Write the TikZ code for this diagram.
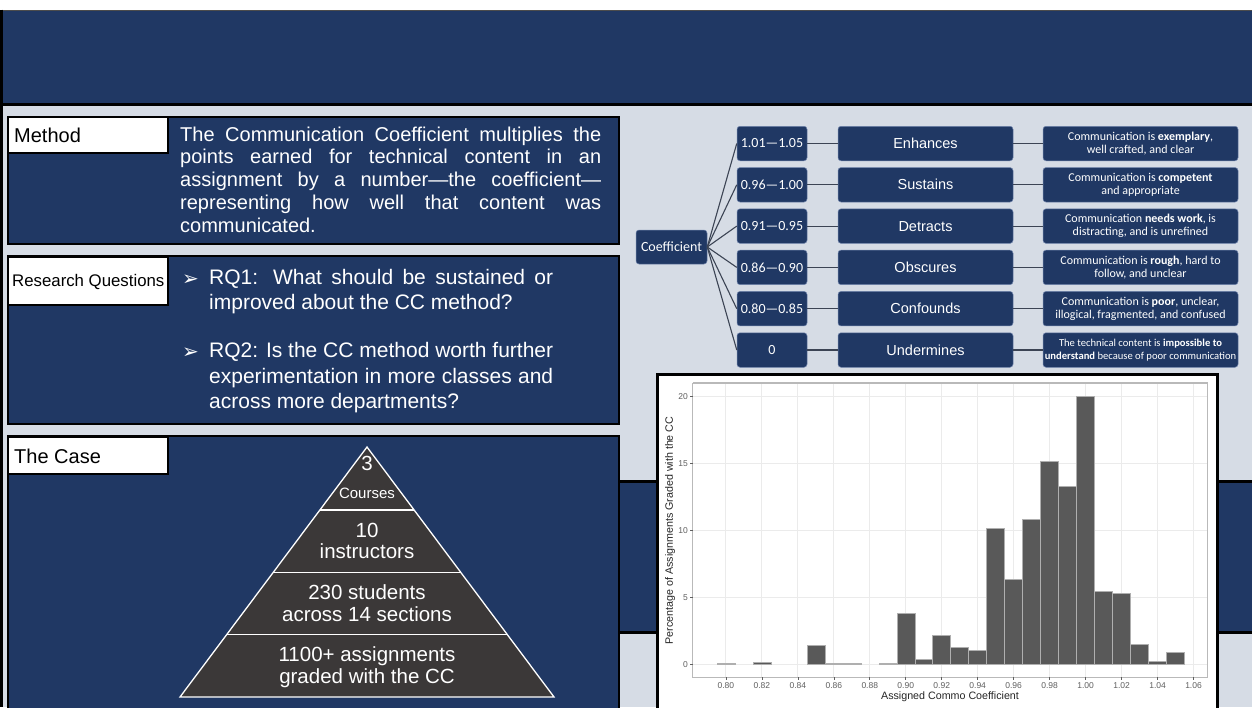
\documentclass[tikz,border=0pt]{standalone}
\usepackage{fontspec}
\setmainfont{Liberation Sans}
\newfontfamily\calib{Carlito}
\newfontfamily\dejavu{DejaVu Sans}
\usetikzlibrary{calc}
\definecolor{navy}{RGB}{32,56,100}
\definecolor{lightbg}{RGB}{214,220,229}
\definecolor{pyrfill}{RGB}{59,56,56}
\definecolor{treeline}{RGB}{60,68,84}
\definecolor{boxedge}{RGB}{110,130,170}
\definecolor{barfill}{RGB}{89,89,89}
\definecolor{baredge}{RGB}{175,175,175}
\definecolor{gridc}{RGB}{235,235,235}
\definecolor{tickc}{RGB}{95,95,95}
\definecolor{panelc}{RGB}{185,185,185}
\tikzset{
  panel/.style={fill=navy, draw=black, line width=2.5pt},
  labelbox/.style={fill=white, draw=black, line width=2pt},
  labeltext/.style={anchor=west, inner sep=0pt, text=black},
  tbox/.style={rounded corners=3pt, fill=navy, draw=boxedge, line width=0.5pt, text=white, align=center, inner sep=0pt},
  rangebox/.style={tbox, minimum width=70pt, minimum height=34.5pt, font=\calib\fontsize{14}{16}\selectfont},
  midbox/.style={tbox, minimum width=175pt, minimum height=34.5pt, font=\fontsize{14.5}{16}\selectfont},
  descbox/.style={tbox, minimum width=195pt, minimum height=34.5pt, font=\calib\fontsize{12}{12.7}\selectfont},
  tline/.style={draw=treeline, line width=1.1pt},
  pyrtext/.style={text=white, anchor=base, inner sep=0pt, font=\fontsize{20.5}{22}\selectfont},
  bodytext/.style={anchor=base west, inner sep=0pt, text=white},
  bullettext/.style={anchor=base west, inner sep=0pt, text=white, font=\dejavu\fontsize{20}{22}\selectfont},
  ticklab/.style={text=tickc, inner sep=0pt, font=\fontsize{8.5}{10}\selectfont},
  axlab/.style={text=black!85, inner sep=0pt, font=\fontsize{10.7}{12}\selectfont},
}
\begin{document}
\begin{tikzpicture}[x=1pt,y=-1pt]
\useasboundingbox (0,0) rectangle (1252,707);
\fill[white] (0,0) rectangle (1252,707);
\fill[lightbg] (0,105) rectangle (1252,707);
% banner
\fill[navy] (1.5,10) rectangle (1252,105);
\draw[line width=0.8pt, black!70] (1.5,10) -- (1252,10);
\draw[line width=3pt] (1.5,104) -- (1252,104);
\draw[line width=2.5pt] (1.5,9.6) -- (1.5,707);
% right navy band behind the histogram
\fill[navy] (620,481) rectangle (1252,632);
\draw[line width=3pt] (620,481) -- (1252,481) (620,632) -- (1252,632);

% ---------- Method ----------
\path[panel] (8,117) rectangle (619,244);
\path[labelbox] (8,117) rectangle (168,153);
\node[labeltext, font=\fontsize{20}{24}\selectfont] (mlabel) at (14,135) {Method};
\node[bodytext] (mtext) at (180,141) {\parbox[t]{421pt}{\fontsize{20}{22.8}\selectfont The Communication Coefficient multiplies the\linebreak points earned for technical content in an\linebreak assignment by a number—the coefficient—\linebreak representing how well that content was\linebreak communicated.}};

% ---------- Research Questions ----------
\path[panel] (8,256) rectangle (619,424);
\path[labelbox] (8,257) rectangle (168,305);
\node[labeltext, font=\fontsize{16.8}{20}\selectfont] (rqlabel) at (12,281.5) {Research Questions};
\node[bullettext] (b1) at (182,285) {➢};
\node[bodytext] (rq1) at (209,284) {\parbox[t]{344pt}{\fontsize{21}{25}\selectfont RQ1: What should be sustained or\linebreak improved about the CC method?}};
\node[bullettext] (b2) at (182,358.5) {➢};
\node[bodytext] (rq2) at (209,357.5) {\parbox[t]{344pt}{\fontsize{21}{25.5}\selectfont RQ2: Is the CC method worth further\linebreak experimentation in more classes and\linebreak across more departments?}};

% ---------- The Case ----------
\path[panel] (8,436) rectangle (619,712);
\path[labelbox] (8,437) rectangle (168,474);
\node[labeltext, font=\fontsize{20}{24}\selectfont] (clabel) at (14,456) {The Case};
\coordinate (apex) at (367,447);
\coordinate (bl) at (180,697);
\coordinate (br) at (554,697);
\filldraw[fill=pyrfill, draw=white, line width=1.3pt, line join=miter] (apex) -- (br) -- (bl) -- cycle;
\foreach \t in {0.252,0.502,0.75}
  \draw[white, line width=1.3pt] ($(apex)!\t!(bl)$) -- ($(apex)!\t!(br)$);
\node[pyrtext] (p1a) at (367,470.5) {3};
\node[pyrtext, font=\fontsize{15}{18}\selectfont] (p1b) at (367,498.5) {Courses};
\node[pyrtext] (p2a) at (367,537) {10};
\node[pyrtext] (p2b) at (367,558.5) {instructors};
\node[pyrtext] (p3a) at (367,599.5) {230 students};
\node[pyrtext] (p3b) at (367,621.5) {across 14 sections};
\node[pyrtext] (p4a) at (367,661.5) {1100+ assignments};
\node[pyrtext] (p4b) at (367,683.5) {graded with the CC};

% ---------- Coefficient tree ----------
\node[tbox, minimum width=71pt, minimum height=34pt, font=\calib\fontsize{14}{16}\selectfont] (coef) at (671.5,247) {Coefficient};
\foreach \i/\rng/\mid/\desc [evaluate=\i as \yc using 143.5+41.3*(\i-1)] in {
  1/1.01—1.05/Enhances/{Communication is \textbf{exemplary},\\ well crafted, and clear},
  2/0.96—1.00/Sustains/{Communication is \textbf{competent}\\ and appropriate},
  3/0.91—0.95/Detracts/{Communication \textbf{needs work}, is\\ distracting, and is unrefined},
  4/0.86—0.90/Obscures/{Communication is \textbf{rough}, hard to\\ follow, and unclear},
  5/0.80—0.85/Confounds/{Communication is \textbf{poor}, unclear,\\ illogical, fragmented, and confused}}{
  \node[rangebox] (r\i) at (772,\yc) {\rng};
  \node[midbox] (m\i) at (925.5,\yc) {\mid};
  \node[descbox] (d\i) at (1140.5,\yc) {\desc};
}
\node[rangebox] (r6) at (772,350) {0};
\node[midbox] (m6) at (925.5,350) {Undermines};
\node[descbox, font=\calib\fontsize{10.6}{12.4}\selectfont] (d6) at (1140.5,350) {The technical content is \textbf{impossible to}\\ \textbf{understand} because of poor communication};
\foreach \i in {1,...,6}{
  \draw[tline] (coef.east) -- (r\i.west);
  \draw[tline] (r\i.east) -- (m\i.west);
  \draw[tline] (m\i.east) -- (d\i.west);
}

% ---------- Histogram ----------
\draw[fill=white, line width=3pt] (657,374) rectangle (1217,712);
\begin{scope}[shift={(725.9,664.3)}, x=17.985pt, y=13.38pt]
  \fill[white] (-1.83,-0.95) rectangle (26.8,21.02);
  \foreach \i in {0,2,...,26}
    \draw[gridc, line width=0.9pt] (\i,-0.95) -- (\i,21.02);
  \foreach \j in {0,5,...,20}
    \draw[gridc, line width=0.9pt] (-1.83,\j) -- (26.8,\j);
  \foreach \i/\h in {0/0.08,2/0.17,5/1.42,6/0.05,7/0.05,9/0.05,10/3.84,11/0.35,12/2.14,13/1.25,14/1.05,15/10.14,16/6.35,17/10.86,18/15.19,19/13.3,20/20,21/5.48,22/5.28,23/1.49,24/0.25,25/0.87}
    \draw[fill=barfill, draw=baredge, line width=0.5pt] (\i-0.5,0) rectangle (\i+0.5,\h);
  \draw[panelc, line width=1pt] (-1.83,-0.95) rectangle (26.8,21.02);
  \draw[panelc, line width=2pt] (-1.83,21.02) -- (26.8,21.02);
  \foreach \i/\l in {0/0.80,2/0.82,4/0.84,6/0.86,8/0.88,10/0.90,12/0.92,14/0.94,16/0.96,18/0.98,20/1.00,22/1.02,24/1.04,26/1.06}{
    \draw[tickc, line width=0.6pt] (\i,-0.95) -- (\i,-1.17);
    \node[ticklab] (xt\i) at (\i,-1.62) {\l};
  }
  \foreach \j in {0,5,10,15,20}{
    \draw[tickc, line width=0.6pt] (-1.83,\j) -- (-2.0,\j);
    \node[ticklab, anchor=east] (yt\j) at (-2.1,\j) {\j};
  }
\end{scope}
\node[axlab] (xlab) at (950,697) {Assigned Commo Coefficient};
\node[axlab, rotate=90] (ylab) at (670,530.5) {Percentage of Assignments Graded with the CC};
\end{tikzpicture}
\end{document}
